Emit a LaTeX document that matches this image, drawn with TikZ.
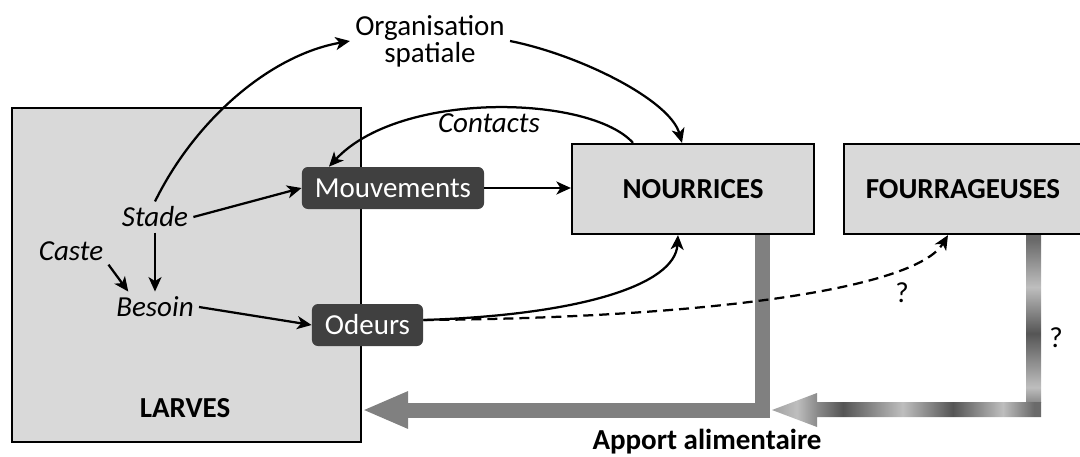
\documentclass[tikz,border=0pt]{standalone}
\usepackage{fontspec}
\setmainfont{Carlito}
\usetikzlibrary{arrows.meta,calc,backgrounds}
\definecolor{boxgray}{HTML}{D9D9D9}
\definecolor{dboxc}{HTML}{404040}
\definecolor{foodgray}{HTML}{808080}
\definecolor{mTip}{HTML}{A0A0A0}
\definecolor{mLight}{HTML}{BEBEBE}
\definecolor{mMid}{HTML}{8A8A8A}
\definecolor{mDark}{HTML}{555555}
\definecolor{mDarkB}{HTML}{6A6A6A}
\pgfdeclarehorizontalshading{metalH}{100bp}{color(0bp)=(mTip); color(25bp)=(mTip); color(29.6bp)=(mLight); color(33.4bp)=(mMid); color(38.2bp)=(mDark); color(49.3bp)=(mLight); color(58.6bp)=(mDark); color(67.9bp)=(mLight); color(73.7bp)=(mDarkB); color(75bp)=(mDarkB); color(100bp)=(mDarkB)}
\pgfdeclareverticalshading{metalV}{100bp}{color(0bp)=(mMid); color(25bp)=(mMid); color(29.5bp)=(mLight); color(45.5bp)=(mDark); color(59.2bp)=(mLight); color(73.2bp)=(mDarkB); color(75bp)=(mDarkB); color(100bp)=(mDarkB)}
\newcommand\fs{\fontsize{16.5}{19}\selectfont}
\begin{document}
\begin{tikzpicture}[x=0.02cm,y=-0.02cm,
  every node/.style={font=\fs},
  bigbox/.style={draw=black, line width=0.045cm, fill=boxgray, inner sep=0pt},
  darkbox/.style={fill=dboxc, text=white, rounded corners=0.12cm, minimum height=0.84cm, inner xsep=0.26cm, inner ysep=0pt},
  lbl/.style={inner sep=0.1cm},
  arr/.style={line width=0.045cm, -{Stealth[length=0.29cm,width=0.26cm,inset=0.08cm]}},
  foodarrow/.style={foodgray, line width=0.3cm, -{Triangle[length=0.92cm,width=0.68cm]}}
  ]
\useasboundingbox (0,0) rectangle (1080,457);
\node[bigbox, minimum width=6.98cm, minimum height=6.68cm] (larves) at (186.5,275) {};
\node[font=\fs\bfseries] (larvestxt) at (185,408) {LARVES};
\node[bigbox, minimum width=4.84cm, minimum height=1.8cm, font=\fs\bfseries] (nour) at (693,189) {NOURRICES};
\node[bigbox, minimum width=4.76cm, minimum height=1.8cm, font=\fs\bfseries] (four) at (963,189) {FOURRAGEUSES};
\node[darkbox] (mouv) at (393,188) {Mouvements};
\node[darkbox] (odeurs) at (367.5,325) {Odeurs};
\node[lbl, font=\fs\itshape] (stade) at (155,217) {Stade};
\node[lbl, font=\fs\itshape] (caste) at (71,251) {Caste};
\node[lbl, font=\fs\itshape] (besoin) at (155,307) {Besoin};
\node[lbl, align=center, font=\fontsize{16.5}{14.2}\selectfont] (org) at (430,41) {Organisation\\spatiale};
\node[lbl, font=\fs\itshape] (contacts) at (489,123) {Contacts};
\node[font=\fs\bfseries] (apport) at (707,442) {Apport alimentaire};
\node (q1) at (902,293) {?};
\node (q2) at (1056,338) {?};
\coordinate (lvl) at (0,410);
\begin{scope}[on background layer]
\draw[foodarrow] ($(nour.south east)+(-52.5,0)$) |- (larves.east |- lvl);
\shade[shading=metalV] (1026,234) rectangle (1041,402.5);
\shade[shading=metalH] (772,410) -- (817,393) -- (817,402) -- (1041,402) -- (1041,417) -- (817,417) -- (817,427) -- cycle;
\end{scope}
\draw[arr] (stade.north) .. controls (195,120) and (270,55) .. (org.west);
\draw[arr] (org.east) .. controls (580,55) and (670,100) .. ([xshift=-0.22cm]nour.north);
\draw[arr] ([xshift=-1.2cm]nour.north) .. controls (590,95) and (400,90) .. ([xshift=-1.28cm]mouv.north);
\draw[arr] (stade.east) -- (mouv.west);
\draw[arr] (stade.south) -- (besoin.north);
\draw[arr] (caste.-20) -- (besoin.150);
\draw[arr] (besoin.east) -- (odeurs.west);
\draw[arr] (mouv.east) -- (mouv.east -| nour.west);
\draw[arr] ([yshift=0.1cm]odeurs.east) .. controls (580,315) and (675,285) .. ([xshift=-0.3cm]nour.south);
\draw[arr, dash pattern=on 0.2cm off 0.12cm] ([yshift=0.1cm]odeurs.east) .. controls (700,318) and (915,290) .. ([xshift=-0.3cm]four.south);
\end{tikzpicture}
\end{document}
